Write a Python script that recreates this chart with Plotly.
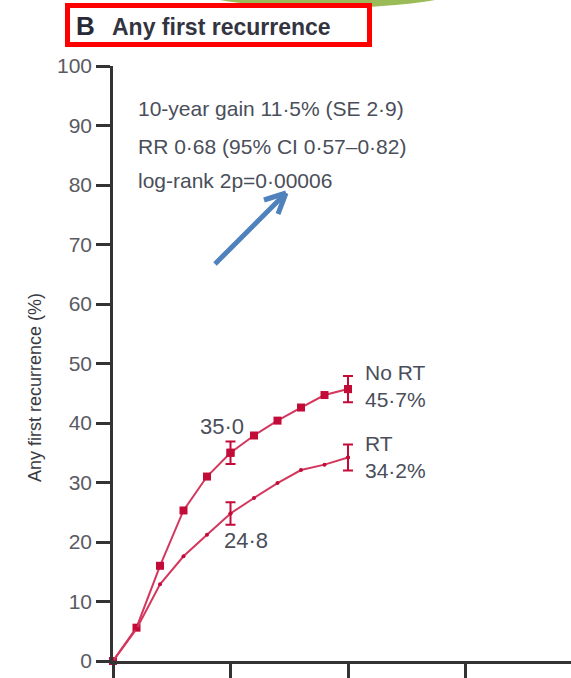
import plotly.graph_objects as go

# Cumulative risk of any first recurrence (%) by year since randomisation
years = [0, 1, 2, 3, 4, 5, 6, 7, 8, 9, 10]
no_rt = [0, 5.6, 16.0, 25.3, 31.0, 35.0, 37.9, 40.4, 42.6, 44.7, 45.7]
rt = [0, 5.4, 12.9, 17.6, 21.2, 24.8, 27.4, 29.9, 32.1, 33.0, 34.2]

# Standard errors shown at 5 and 10 years
err_years = [5, 10]
no_rt_err = [1.9, 2.2]
rt_err = [1.9, 2.2]

x_ticks = [0, 5, 10, 15]
y_ticks = [0, 10, 20, 30, 40, 50, 60, 70, 80, 90, 100]

stats_lines = [
    "10-year gain 11·5% (SE 2·9)",
    "RR 0·68 (95% CI 0·57–0·82)",
    "log-rank 2p=0·00006",
]

W, H = 571, 678
L, R, T, B = 113, 0, 66, 17
PX_PER_YEAR = 23.5

LINE = "#d3375d"
MARK = "#c30b38"
TXT = "#4a4e5a"
FONT = "Liberation Sans, Arial, sans-serif"


def fmt(v):
    return f"{v:.1f}".replace(".", "·")


def px(xp, yp):
    # pixel position -> paper coordinates
    return (xp - L) / (W - L - R), (H - B - yp) / (H - T - B)


fig = go.Figure()

fig.add_trace(go.Scatter(
    x=years, y=no_rt, mode="lines+markers", name="No RT",
    line=dict(color=LINE, width=2),
    marker=dict(symbol="square", size=8, color=MARK),
    cliponaxis=False, showlegend=False,
))
fig.add_trace(go.Scatter(
    x=years, y=rt, mode="lines+markers", name="RT",
    line=dict(color=LINE, width=2),
    marker=dict(symbol="circle", size=4, color=MARK),
    cliponaxis=False, showlegend=False,
))

# error bars at 5 and 10 years
idx = [years.index(v) for v in err_years]
fig.add_trace(go.Scatter(
    x=err_years, y=[no_rt[i] for i in idx], mode="markers",
    marker=dict(symbol="square", size=8, color=MARK),
    error_y=dict(type="data", array=no_rt_err, color=MARK, thickness=2, width=5),
    showlegend=False,
))
fig.add_trace(go.Scatter(
    x=err_years, y=[rt[i] for i in idx], mode="markers",
    marker=dict(symbol="circle", size=4, color=MARK),
    error_y=dict(type="data", array=rt_err, color=MARK, thickness=2, width=5),
    showlegend=False,
))

annotations = []

# value labels
lab_font = dict(family=FONT, size=22, color=TXT)
end_font = dict(family=FONT, size=21, color=TXT)
annotations += [
    dict(x=5, y=no_rt[5], text=fmt(no_rt[5]), showarrow=False, xanchor="center",
         yanchor="middle", xshift=-9, yshift=26, font=lab_font),
    dict(x=5, y=rt[5], text=fmt(rt[5]), showarrow=False, xanchor="center",
         yanchor="middle", xshift=15, yshift=-27, font=lab_font),
    dict(x=10, y=no_rt[10], text="No RT<br>" + fmt(no_rt[10]) + "%", showarrow=False,
         xanchor="left", yanchor="middle", align="left", xshift=15, yshift=3,
         font=end_font),
    dict(x=10, y=rt[10], text="RT<br>" + fmt(rt[10]) + "%", showarrow=False,
         xanchor="left", yanchor="middle", align="left", xshift=15, yshift=1,
         font=end_font),
]

# statistics block
for line, yp in zip(stats_lines, [109, 146, 180]):
    xp, ypp = px(136, yp)
    annotations.append(dict(
        x=xp, y=ypp, xref="paper", yref="paper", text=line, showarrow=False,
        xanchor="left", yanchor="middle", font=dict(family=FONT, size=21, color=TXT),
    ))

# y-axis title
xp, ypp = px(35, 388)
annotations.append(dict(
    x=xp, y=ypp, xref="paper", yref="paper", text="Any first recurrence (%)",
    textangle=-90, showarrow=False, xanchor="center", yanchor="middle",
    font=dict(family=FONT, size=18, color="#3a3a44"),
))

# panel heading
xp, ypp = px(74, 26)
annotations.append(dict(
    x=xp, y=ypp, xref="paper", yref="paper", text="<b>B</b>", showarrow=False,
    xanchor="left", yanchor="middle", font=dict(family=FONT, size=26, color="#282a36"),
))
xp, ypp = px(110, 27)
annotations.append(dict(
    x=xp, y=ypp, xref="paper", yref="paper", text="<b>Any first recurrence</b>",
    showarrow=False, xanchor="left", yanchor="middle",
    font=dict(family=FONT, size=23, color="#33343f"),
))

shapes = []
# green ellipse peeking in at the top
gx0, gy0 = px(150, -70)
gx1, gy1 = px(505, 8)
shapes.append(dict(type="circle", xref="paper", yref="paper", x0=gx0, x1=gx1,
                   y0=gy1, y1=gy0, fillcolor="#9bbb59", line=dict(width=0), layer="above"))
# red frame around the heading
rx0, ry0 = px(67.5, 5.5)
rx1, ry1 = px(369.5, 44.5)
shapes.append(dict(type="rect", xref="paper", yref="paper", x0=rx0, x1=rx1,
                   y0=ry1, y1=ry0, line=dict(color="#ff0000", width=5),
                   fillcolor="rgba(0,0,0,0)", layer="above"))
# blue pointer arrow
ARW = "#4f81bd"
ax0, ay0 = px(215, 264)
ax1, ay1 = px(286, 193)
shapes.append(dict(type="line", xref="paper", yref="paper", x0=ax0, y0=ay0,
                   x1=ax1, y1=ay1, line=dict(color=ARW, width=5)))
for hx, hy in [(264, 200), (278, 214)]:
    bx, by = px(hx, hy)
    shapes.append(dict(type="line", xref="paper", yref="paper", x0=bx, y0=by,
                       x1=ax1, y1=ay1, line=dict(color=ARW, width=5)))

fig.update_layout(
    width=W, height=H,
    margin=dict(l=L, r=R, t=T, b=B, pad=0),
    paper_bgcolor="white", plot_bgcolor="white",
    annotations=annotations, shapes=shapes,
    xaxis=dict(
        range=[0, (W - L - R) / PX_PER_YEAR], tickvals=x_ticks, showticklabels=False,
        ticks="outside", ticklen=17, tickwidth=2.5, tickcolor="#333",
        showline=True, linecolor="#333", linewidth=2.5, showgrid=False, zeroline=False,
        fixedrange=True,
    ),
    yaxis=dict(
        range=[0, 100], tickvals=y_ticks, ticks="outside", ticklen=14, tickwidth=2.5,
        tickcolor="#333", showline=True, linecolor="#333", linewidth=2.5,
        showgrid=False, zeroline=False, fixedrange=True,
        tickfont=dict(family=FONT, size=21, color="#5a5a62"),
    ),
)

fig.write_html("out.html")
